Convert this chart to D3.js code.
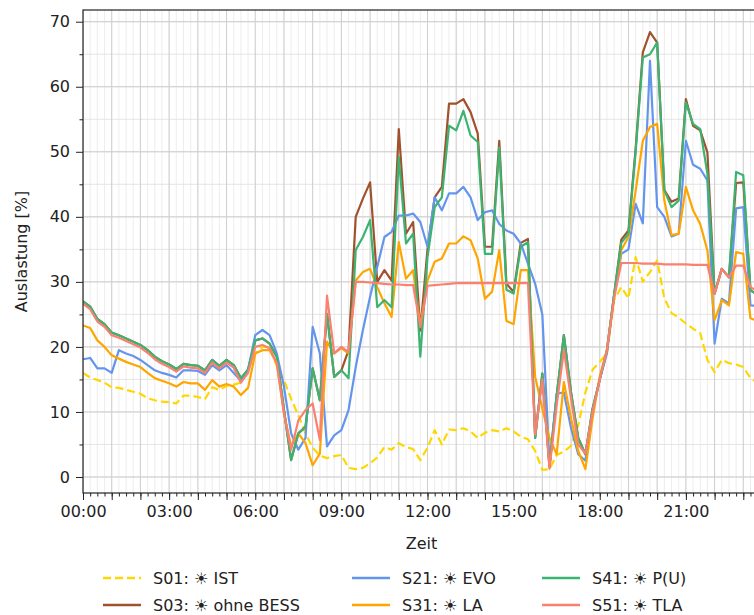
<!DOCTYPE html>
<html>
<head>
<meta charset="utf-8">
<script src="https://cdn.jsdelivr.net/npm/d3@7"></script>
<style>
  body { margin: 0; background: #fff; }
  svg { display: block; font-family: "DejaVu Sans", sans-serif; }
</style>
</head>
<body>
<svg id="chart"></svg>
<script>
// Auslastung in %, 15-Minuten-Werte 00:00 .. 23:45
const s01 = [16.0,15.3,14.9,14.5,13.8,13.7,13.4,13.1,12.8,12.1,11.8,11.6,11.5,11.3,12.5,12.5,12.3,12.0,13.8,13.4,14.0,14.2,14.5,16.5,
  19.0,20.0,20.0,17.0,14.9,12.0,9.5,6.7,4.5,3.3,2.9,3.2,3.4,1.4,1.2,1.4,2.1,3.0,4.6,4.2,5.2,4.6,4.3,2.6,
  4.5,7.2,5.0,7.3,7.2,7.5,7.0,6.0,6.8,7.2,7.0,7.5,7.0,6.2,5.8,4.0,1.1,1.2,3.4,3.9,4.8,8.0,13.0,16.5,
  17.7,19.0,27.2,29.2,27.5,33.8,30.0,31.5,33.3,27.5,25.2,24.5,23.6,22.8,22.1,18.0,16.1,18.0,17.5,17.3,16.9,15.2,14.5,14.0];

const s03 = [27.0,26.2,24.3,23.5,22.2,21.8,21.3,20.8,20.3,19.5,18.5,17.8,17.3,16.6,17.4,17.2,17.1,16.4,18.0,17.1,18.0,17.2,15.2,16.5,
  21.0,21.3,20.5,18.5,10.3,2.6,6.7,7.7,16.7,11.8,25.1,15.4,16.4,19.5,40.0,42.8,45.3,30.0,31.8,30.2,
  53.5,37.4,39.2,22.5,35.0,43.0,44.6,57.4,57.4,58.1,56.1,52.8,35.4,35.4,51.7,29.7,28.5,36.0,36.6,
  6.0,15.9,1.6,12.5,21.8,13.0,6.0,3.5,10.5,15.0,19.5,28.0,36.5,37.9,50.5,65.3,68.4,66.8,44.1,42.3,42.8,
  58.1,54.0,53.3,49.9,28.2,32.0,30.7,45.2,45.3,28.7,28.0,27.5];

const s21 = [18.1,18.3,16.7,16.7,16.0,19.5,19.0,18.6,18.0,17.2,16.4,16.0,15.7,15.3,16.4,16.4,16.3,15.7,17.2,16.4,17.2,16.0,14.8,16.5,
  21.8,22.6,21.8,19.0,13.9,6.7,4.2,6.0,23.1,19.0,4.7,6.4,7.2,10.3,16.9,22.6,27.7,32.3,36.9,37.7,
  40.2,40.2,40.5,39.2,35.4,43.0,41.0,43.6,43.6,44.6,43.0,39.5,40.7,41.0,38.9,37.9,37.4,35.9,32.8,
  29.7,25.0,2.0,12.8,13.0,7.5,3.5,2.5,10.0,15.0,19.0,28.0,34.3,35.0,42.0,39.0,64.0,41.5,40.0,37.0,37.4,
  51.7,48.0,47.4,45.6,20.5,27.4,26.7,41.3,41.5,26.4,26.3,26.0];

const s31 = [23.3,22.9,21.0,20.0,18.7,18.2,17.7,17.3,16.9,16.0,15.2,14.8,14.4,13.9,14.6,14.4,14.4,13.4,14.9,13.9,14.3,13.9,12.6,13.7,
  19.0,19.5,19.5,17.5,9.8,4.7,6.7,5.2,1.8,3.6,20.8,19.0,19.8,19.0,30.2,31.5,32.0,29.2,26.7,24.6,
  36.1,30.5,31.8,23.1,30.2,33.1,33.6,35.9,35.9,37.0,36.4,33.6,27.4,28.5,34.9,24.0,23.5,31.8,31.8,
  15.4,10.5,6.0,3.5,14.6,9.0,4.0,1.2,9.0,15.5,19.5,27.5,34.9,36.9,44.0,51.7,53.8,54.3,42.5,37.2,37.4,
  44.6,41.0,38.9,34.8,24.1,27.2,26.4,34.6,34.3,24.4,24.0,24.0];

const s41 = [27.0,26.2,24.3,23.5,22.2,21.8,21.3,20.8,20.3,19.5,18.5,17.8,17.3,16.6,17.4,17.2,17.1,16.4,18.0,17.1,18.0,17.2,15.2,16.5,
  21.0,21.3,20.5,18.5,10.3,2.6,6.7,7.7,16.7,11.8,25.1,15.4,16.4,15.2,34.9,36.9,39.5,26.1,27.2,26.1,
  49.2,35.9,37.4,18.5,33.8,41.5,43.0,54.0,53.3,56.3,52.5,51.5,34.3,34.3,50.7,28.8,28.2,35.4,36.1,
  6.0,15.9,1.6,12.5,21.8,13.0,6.0,3.5,10.5,15.0,19.5,28.0,36.0,37.4,50.0,64.5,65.0,66.8,44.1,41.5,42.5,
  57.6,54.3,53.5,46.6,28.2,32.0,30.7,46.9,46.4,28.7,28.0,27.5];

const s51 = [26.6,25.8,23.9,23.1,21.8,21.4,20.9,20.4,19.9,19.1,18.1,17.4,16.9,16.2,17.0,16.8,16.7,16.0,17.6,16.7,17.6,16.8,14.5,16.0,
  20.0,20.3,19.8,17.5,9.8,4.2,8.7,10.3,11.3,5.7,27.9,19.0,20.0,19.2,30.0,30.0,29.9,29.8,29.7,29.6,
  29.6,29.5,29.5,23.1,29.4,29.5,29.6,29.7,29.8,29.8,29.8,29.8,29.8,29.8,29.8,29.8,29.8,29.8,29.8,
  6.5,15.0,1.3,11.0,19.5,12.0,5.0,3.6,10.0,15.0,19.5,27.5,32.9,32.9,32.9,32.8,32.8,32.8,32.7,32.7,32.7,
  32.7,32.6,32.6,32.6,28.2,32.0,30.7,32.5,32.5,29.2,28.5,28.5];

const seriesNames = ["S01: \u2600 IST", "S03: \u2600 ohne BESS", "S21: \u2600 EVO", "S31: \u2600 LA", "S41: \u2600 P(U)", "S51: \u2600 TLA"];
const seriesValues = [s01, s03, s21, s31, s41, s51];
const seriesColors = ["gold", "sienna", "cornflowerblue", "orange", "mediumseagreen", "salmon"];
const seriesDashed = [true, false, false, false, false, false];

const yTicks = [0, 10, 20, 30, 40, 50, 60, 70];

const width = 754, height = 615;
const margin = { left: 83, top: 10 };
const plotW = 689, plotH = 483;

const day = new Date(2024, 0, 1, 0, 0);
const times = d3.range(s01.length).map(i => d3.timeMinute.offset(day, i * 15));

const svg = d3.select("#chart").attr("width", width).attr("height", height);
svg.append("rect").attr("width", width).attr("height", height).attr("fill", "#fff");

const x = d3.scaleTime()
  .domain([day, d3.timeHour.offset(day, 24)])
  .range([margin.left, margin.left + plotW]);
const y = d3.scaleLinear()
  .domain([-2.46, 71.8])
  .range([margin.top + plotH, margin.top]);

svg.append("clipPath").attr("id", "plotclip")
  .append("rect")
  .attr("x", margin.left).attr("y", margin.top)
  .attr("width", plotW).attr("height", plotH);

// grid
const minorX = d3.timeMinute.every(15).range(day, d3.timeHour.offset(day, 24));
const hourX = d3.timeHour.range(day, d3.timeHour.offset(day, 24));
const grid = svg.append("g").attr("clip-path", "url(#plotclip)");
grid.selectAll(".gxm").data(minorX).join("line")
  .attr("x1", d => x(d)).attr("x2", d => x(d))
  .attr("y1", margin.top).attr("y2", margin.top + plotH)
  .attr("stroke", "#e9e9e9").attr("stroke-width", 0.8);
grid.selectAll(".gym").data(d3.range(0, 71, 5)).join("line")
  .attr("x1", margin.left).attr("x2", margin.left + plotW)
  .attr("y1", d => y(d)).attr("y2", d => y(d))
  .attr("stroke", "#dedede").attr("stroke-width", 0.8);
grid.selectAll(".gx").data(hourX).join("line")
  .attr("x1", d => x(d)).attr("x2", d => x(d))
  .attr("y1", margin.top).attr("y2", margin.top + plotH)
  .attr("stroke", "#cfcfcf").attr("stroke-width", 1);
grid.selectAll(".gy").data(yTicks).join("line")
  .attr("x1", margin.left).attr("x2", margin.left + plotW)
  .attr("y1", d => y(d)).attr("y2", d => y(d))
  .attr("stroke", "#cfcfcf").attr("stroke-width", 1);

// lines
const line = d3.line().x((d, i) => x(times[i])).y(d => y(d));
const lines = svg.append("g").attr("clip-path", "url(#plotclip)");
seriesValues.forEach((vals, k) => {
  lines.append("path")
    .datum(vals)
    .attr("d", line)
    .attr("fill", "none")
    .attr("stroke", seriesColors[k])
    .attr("stroke-width", 2.2)
    .attr("stroke-linejoin", "round")
    .attr("stroke-dasharray", seriesDashed[k] ? "8,4" : null);
});

// axes
const fs = 16;
const xMinor = svg.append("g")
  .attr("transform", `translate(0,${margin.top + plotH})`)
  .call(d3.axisBottom(x).tickValues(minorX).tickSize(3.5).tickFormat(""));
const xAxis = svg.append("g")
  .attr("transform", `translate(0,${margin.top + plotH})`)
  .call(d3.axisBottom(x).tickValues(hourX).tickSize(7).tickPadding(6)
    .tickFormat(d => d.getHours() % 3 === 0 ? d3.timeFormat("%H:%M")(d) : ""));
const yMinor = svg.append("g")
  .attr("transform", `translate(${margin.left},0)`)
  .call(d3.axisLeft(y).tickValues(d3.range(5, 71, 10)).tickSize(3.5).tickFormat(""));
const yAxis = svg.append("g")
  .attr("transform", `translate(${margin.left},0)`)
  .call(d3.axisLeft(y).tickValues(yTicks).tickSize(7).tickPadding(6));

[xMinor, xAxis, yMinor, yAxis].forEach(g => {
  g.select(".domain").remove();
  g.selectAll(".tick line").attr("stroke", "#222").attr("stroke-width", 1);
  g.selectAll(".tick text").attr("font-size", fs).attr("fill", "#222")
    .attr("font-family", "DejaVu Sans");
});

// spines
svg.append("rect")
  .attr("x", margin.left).attr("y", margin.top)
  .attr("width", plotW).attr("height", plotH)
  .attr("fill", "none").attr("stroke", "#222").attr("stroke-width", 1.2);

// axis labels
svg.append("text")
  .attr("x", margin.left + plotW / 2 - 6).attr("y", 549)
  .attr("text-anchor", "middle").attr("font-size", fs).attr("fill", "#222")
  .text("Zeit");
svg.append("text")
  .attr("transform", `translate(27,${margin.top + plotH / 2}) rotate(-90)`)
  .attr("text-anchor", "middle").attr("font-size", fs).attr("fill", "#222")
  .text("Auslastung [%]");

// legend, 3 Spalten
const colX = [103, 352, 542];
const rowY = [578, 605];
const legend = svg.append("g");
seriesNames.forEach((name, k) => {
  const cx = colX[Math.floor(k / 2)], cy = rowY[k % 2];
  legend.append("line")
    .attr("x1", cx).attr("x2", cx + 38).attr("y1", cy).attr("y2", cy)
    .attr("stroke", seriesColors[k]).attr("stroke-width", 2.6)
    .attr("stroke-dasharray", seriesDashed[k] ? "8,4" : null);
  legend.append("text")
    .attr("x", cx + 50).attr("y", cy).attr("dy", "0.35em")
    .attr("font-size", fs).attr("fill", "#222")
    .text(name);
});
</script>
</body>
</html>
